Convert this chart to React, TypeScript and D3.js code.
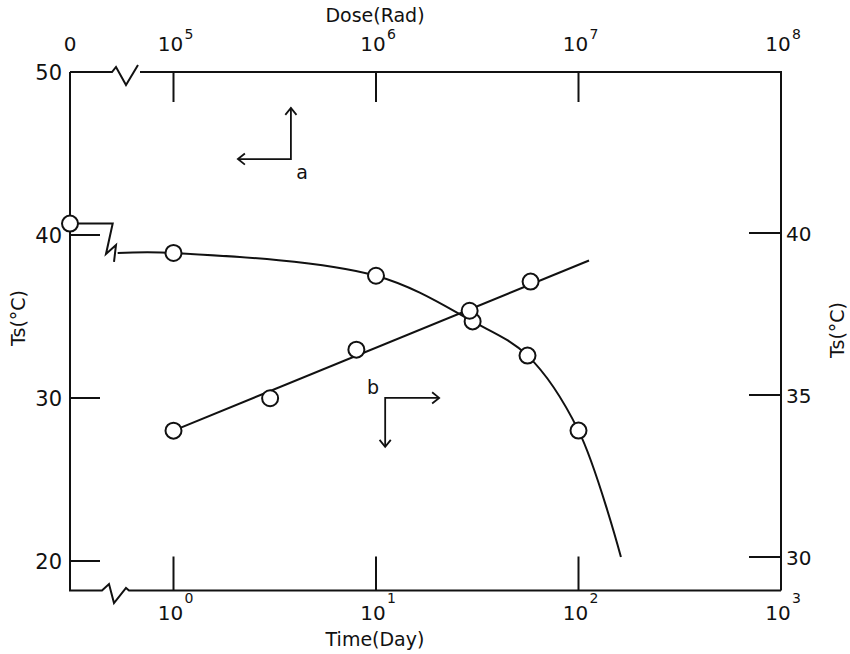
import * as d3 from "d3";

// curve a: dose (top axis) vs Ts (left axis)
const doseValues = [1e5, 1e6, 3.0e6, 5.6e6, 1e7];
const tsA = [38.9, 37.5, 34.7, 32.6, 28.0];
const tsAtZeroDose = 40.7;
// hand drawn trend through curve a
const curveADose = [5.3e4, 1e5, 1e6, 3.0e6, 5.6e6, 1e7, 1.62e7];
const curveATs = [38.9, 38.9, 37.5, 34.7, 32.6, 28.0, 20.25];

// line b: time (bottom axis) vs Ts (right axis)
const timeValues = [1, 3, 8, 29, 58];
const tsB = [33.9, 34.9, 36.4, 37.6, 38.5];
const fitBTime = [1, 112.7];
const fitBTs = [33.9, 39.15];

const doseTicks = [1e5, 1e6, 1e7, 1e8];
const doseExp = ["5", "6", "7", "8"];
const timeTicks = [1, 10, 100, 1000];
const timeExp = ["0", "1", "2", "3"];
const leftTicks = [50, 40, 30, 20];
const rightTicks = [40, 35, 30];

const W = 850;
const H = 654;
const left = 70;
const right = 781;
const top = 72;
const bottom = 590.5;
const ink = "#111";
const font = "DejaVu Sans, Liberation Sans, sans-serif";

const xTime = d3.scaleLog().domain([1, 1000]).range([173.5, right]);
const xDose = d3.scaleLog().domain([1e5, 1e8]).range([173.5, right]);
const yLeft = d3.scaleLinear().domain([20, 50]).range([561, top]);
const yRight = d3.scaleLinear().domain([30, 40]).range([557, 233]);

// arrows, in data coordinates
const arrowA = { dose: 3.8e5, ts: 44.66, doseTo: 2.08e5, tsTo: 47.8 };
const arrowB = { time: 11.1, ts: 34.91, timeTo: 20.5, tsTo: 33.4 };

const head = (x: number, y: number, dir: string) => {
  const s = 7;
  if (dir === "left") return `M${x + s},${y - s * 0.8}L${x},${y}L${x + s},${y + s * 0.8}`;
  if (dir === "right") return `M${x - s},${y - s * 0.8}L${x},${y}L${x - s},${y + s * 0.8}`;
  if (dir === "up") return `M${x - s * 0.8},${y + s}L${x},${y}L${x + s * 0.8},${y + s}`;
  return `M${x - s * 0.8},${y - s}L${x},${y}L${x + s * 0.8},${y - s}`;
};

export default function App() {
  const curveA = d3
    .line<number>()
    .x((d) => xDose(d))
    .y((_, i) => yLeft(curveATs[i]))
    .curve(d3.curveCatmullRom.alpha(0.5))(curveADose);

  const lineB = d3
    .line<number>()
    .x((d) => xTime(d))
    .y((_, i) => yRight(fitBTs[i]))(fitBTime);

  const y0 = yLeft(tsAtZeroDose);
  const yA1 = yLeft(tsA[0]);

  const ax = xDose(arrowA.dose);
  const ay = yLeft(arrowA.ts);
  const ax2 = xDose(arrowA.doseTo);
  const ay2 = yLeft(arrowA.tsTo);
  const bx = xTime(arrowB.time);
  const by = yRight(arrowB.ts);
  const bx2 = xTime(arrowB.timeTo);
  const by2 = yRight(arrowB.tsTo);

  return (
    <svg
      width={W}
      height={H}
      style={{ position: "absolute", left: 0, top: 0, background: "#fff" }}
      fontFamily={font}
    >
      <g fill="none" stroke={ink} strokeWidth={2} strokeLinejoin="miter">
        {/* frame with breaks */}
        <path d={`M${left},${top}H112L116,67L126,85L138,65M140,${top}H${right}V${bottom}`} />
        <path d={`M${left},${top}V${bottom}H102L109,584L114,603L126,588L129,${bottom}H${right}`} />

        {/* ticks */}
        {doseTicks.slice(0, 3).map((d) => (
          <line key={d} x1={xDose(d)} x2={xDose(d)} y1={top} y2={top + 30} />
        ))}
        {timeTicks.slice(0, 3).map((d) => (
          <line key={d} x1={xTime(d)} x2={xTime(d)} y1={bottom} y2={bottom - 34} />
        ))}
        {leftTicks.slice(1).map((d) => (
          <line key={d} x1={left} x2={left + 30} y1={yLeft(d)} y2={yLeft(d)} />
        ))}
        {rightTicks.map((d) => (
          <line key={d} x1={right} x2={right - 32} y1={yRight(d)} y2={yRight(d)} />
        ))}

        {/* zero dose break */}
        <path d={`M${left},${y0}H112.7L106,${yA1 + 1}L116,${yA1 - 8}L114,${yA1 + 9}`} />

        {/* curve a and line b */}
        <path d={curveA ?? ""} />
        <path d={lineB ?? ""} />

        {/* arrows */}
        <path d={`M${ax},${ay2}L${ax},${ay}L${ax2},${ay}`} strokeWidth={1.8} />
        <path d={head(ax, ay2, "up")} strokeWidth={1.8} />
        <path d={head(ax2, ay, "left")} strokeWidth={1.8} />
        <path d={`M${bx2},${by}L${bx},${by}L${bx},${by2}`} strokeWidth={1.8} />
        <path d={head(bx2, by, "right")} strokeWidth={1.8} />
        <path d={head(bx, by2, "down")} strokeWidth={1.8} />
      </g>

      {/* markers */}
      <g fill="#fff" stroke={ink} strokeWidth={2}>
        <circle cx={left} cy={y0} r={8} />
        {doseValues.map((d, i) => (
          <circle key={"a" + i} cx={xDose(d)} cy={yLeft(tsA[i])} r={8} />
        ))}
        {timeValues.map((d, i) => (
          <circle key={"b" + i} cx={xTime(d)} cy={yRight(tsB[i])} r={8} />
        ))}
      </g>

      {/* labels */}
      <g fill={ink} fontSize={20}>
        <text x={left} y={51} textAnchor="middle">0</text>
        {doseTicks.map((d, i) => (
          <g key={d}>
            <text x={xDose(d) - 3} y={51} textAnchor="middle">10</text>
            <text x={xDose(d) + 11} y={39} fontSize={14}>{doseExp[i]}</text>
          </g>
        ))}
        {timeTicks.map((d, i) => (
          <g key={d}>
            <text x={xTime(d) - 3} y={620} textAnchor="middle">10</text>
            <text x={xTime(d) + 11} y={603} fontSize={14}>{timeExp[i]}</text>
          </g>
        ))}
        {leftTicks.map((d) => (
          <text key={d} x={62} y={yLeft(d) + 7.5} textAnchor="end" fontSize={21}>{d}</text>
        ))}
        {rightTicks.map((d) => (
          <text key={d} x={786} y={yRight(d) + 8} fontSize={20}>{d}</text>
        ))}
        <text x={375} y={22} textAnchor="middle" fontSize={19}>Dose(Rad)</text>
        <text x={375} y={646} textAnchor="middle" fontSize={19}>Time(Day)</text>
        <text transform="translate(25,318) rotate(-90)" textAnchor="middle" fontSize={19}>Ts(°C)</text>
        <text transform="translate(844,330) rotate(-90)" textAnchor="middle" fontSize={19}>Ts(°C)</text>
        <text x={302} y={179} textAnchor="middle" fontSize={19}>a</text>
        <text x={373} y={394} textAnchor="middle" fontSize={19}>b</text>
      </g>
    </svg>
  );
}
